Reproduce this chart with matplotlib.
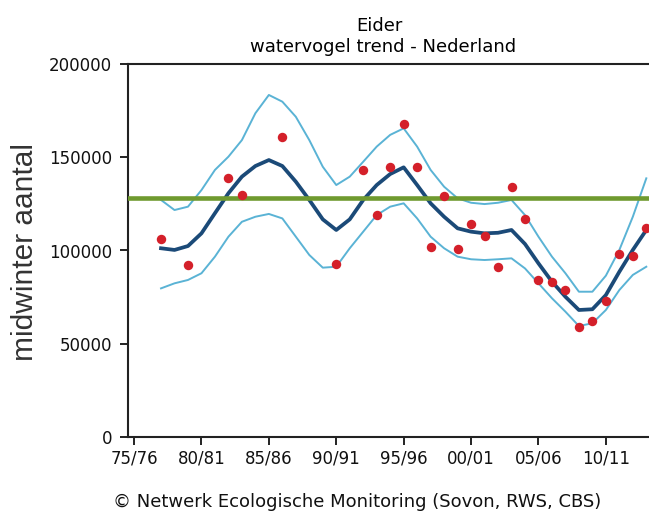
import matplotlib
matplotlib.use("Agg")
import matplotlib.pyplot as plt

# Midwinter counts (red dots)
count_years = [1977, 1979, 1982, 1983, 1986, 1990, 1992, 1993, 1994, 1995,
               1996, 1997, 1998, 1999, 2000, 2001, 2002, 2003, 2004, 2005,
               2006, 2007, 2008, 2009, 2010, 2011, 2012, 2013]
counts = [106000, 92000, 139000, 130000, 161000, 93000, 143000, 119000, 145000, 168000,
          145000, 102000, 129000, 101000, 114000, 108000, 91000, 134000, 117000, 84000,
          83000, 79000, 59000, 62000, 73000, 98000, 97000, 112000]

# Smoothed trend with confidence band
trend_years = list(range(1977, 2014))
trend = [101200, 100300, 102400, 109200, 120000, 130700, 139600, 145300, 148500, 145300,
         136900, 127100, 116700, 111000, 116700, 127100, 135100, 141000, 144600, 135100,
         125300, 118100, 111900, 110100, 109200, 109500, 111000, 103500, 93100, 83300,
         75200, 68100, 68500, 76100, 88600, 100300, 111000]
upper = [127100, 121700, 123500, 132400, 143200, 150300, 159200, 173600, 183400, 179800,
         171700, 159200, 144900, 135100, 139600, 147600, 155700, 162000, 165500, 155700,
         143200, 134200, 128000, 125600, 124900, 125600, 127100, 119000, 107400, 96700,
         87800, 77900, 77900, 86500, 100300, 118100, 138700]
lower = [79700, 82400, 84200, 87800, 96700, 107400, 115400, 118100, 119600, 117200,
         107400, 97600, 90800, 91300, 101200, 110100, 119000, 123500, 125300, 117200,
         107400, 101200, 96700, 95300, 94900, 95300, 95800, 90400, 82400, 74400,
         67200, 59500, 61000, 68100, 78800, 86900, 91300]

# Long-term reference level
reference_level = 128300

tick_years = [1975, 1980, 1985, 1990, 1995, 2000, 2005, 2010]
tick_labels = ["75/76", "80/81", "85/86", "90/91", "95/96", "00/01", "05/06", "10/11"]
y_ticks = [0, 50000, 100000, 150000, 200000]

W, H = 649, 511
fig = plt.figure(figsize=(W / 100, H / 100), dpi=100)
ax = fig.add_axes([128 / W, (H - 437) / H, (W - 128) / W, (437 - 64) / H])

ax.plot(trend_years, upper, color="#5ab3d5", lw=1.4, zorder=2)
ax.plot(trend_years, lower, color="#5ab3d5", lw=1.4, zorder=2)
ax.plot(trend_years, trend, color="#1b4a78", lw=2.7, zorder=3)
ax.axhline(reference_level, color="#6f9a2f", lw=3.3, zorder=4)
ax.plot(count_years, counts, "o", color="#d4202a", ms=6.8, mec="none", zorder=5)

ax.set_xlim(1974.55, 2013.2)
ax.set_ylim(0, 200000)
ax.set_xticks(tick_years)
ax.set_xticklabels(tick_labels)
ax.set_yticks(y_ticks)
ax.set_yticklabels([str(v) for v in y_ticks])
ax.tick_params(axis="both", direction="out", length=6, width=1.3, labelsize=12,
               colors="#111111")
ax.tick_params(axis="y", pad=5.5)
ax.tick_params(axis="x", pad=3)

for side in ["left", "bottom", "top"]:
    ax.spines[side].set_linewidth(1.5)
    ax.spines[side].set_color("#222222")
ax.spines["right"].set_visible(False)

# y-axis title, anchored on its baseline
fig.text(33.5 / W, (H - 251.7) / H, "midwinter aantal", rotation=90,
         rotation_mode="anchor", ha="center", va="baseline",
         family="Liberation Sans", fontsize=21.5, color="#333333")

fig.text(379 / W, (H - 31) / H, "Eider", ha="center", va="baseline", fontsize=13)
fig.text(383 / W, (H - 52) / H, "watervogel trend - Nederland",
         ha="center", va="baseline", fontsize=13)
fig.text(357 / W, (H - 507) / H, "\u00a9 Netwerk Ecologische Monitoring (Sovon, RWS, CBS)",
         ha="center", va="baseline", fontsize=13, color="#111111")

fig.savefig("out.png", dpi=100)
